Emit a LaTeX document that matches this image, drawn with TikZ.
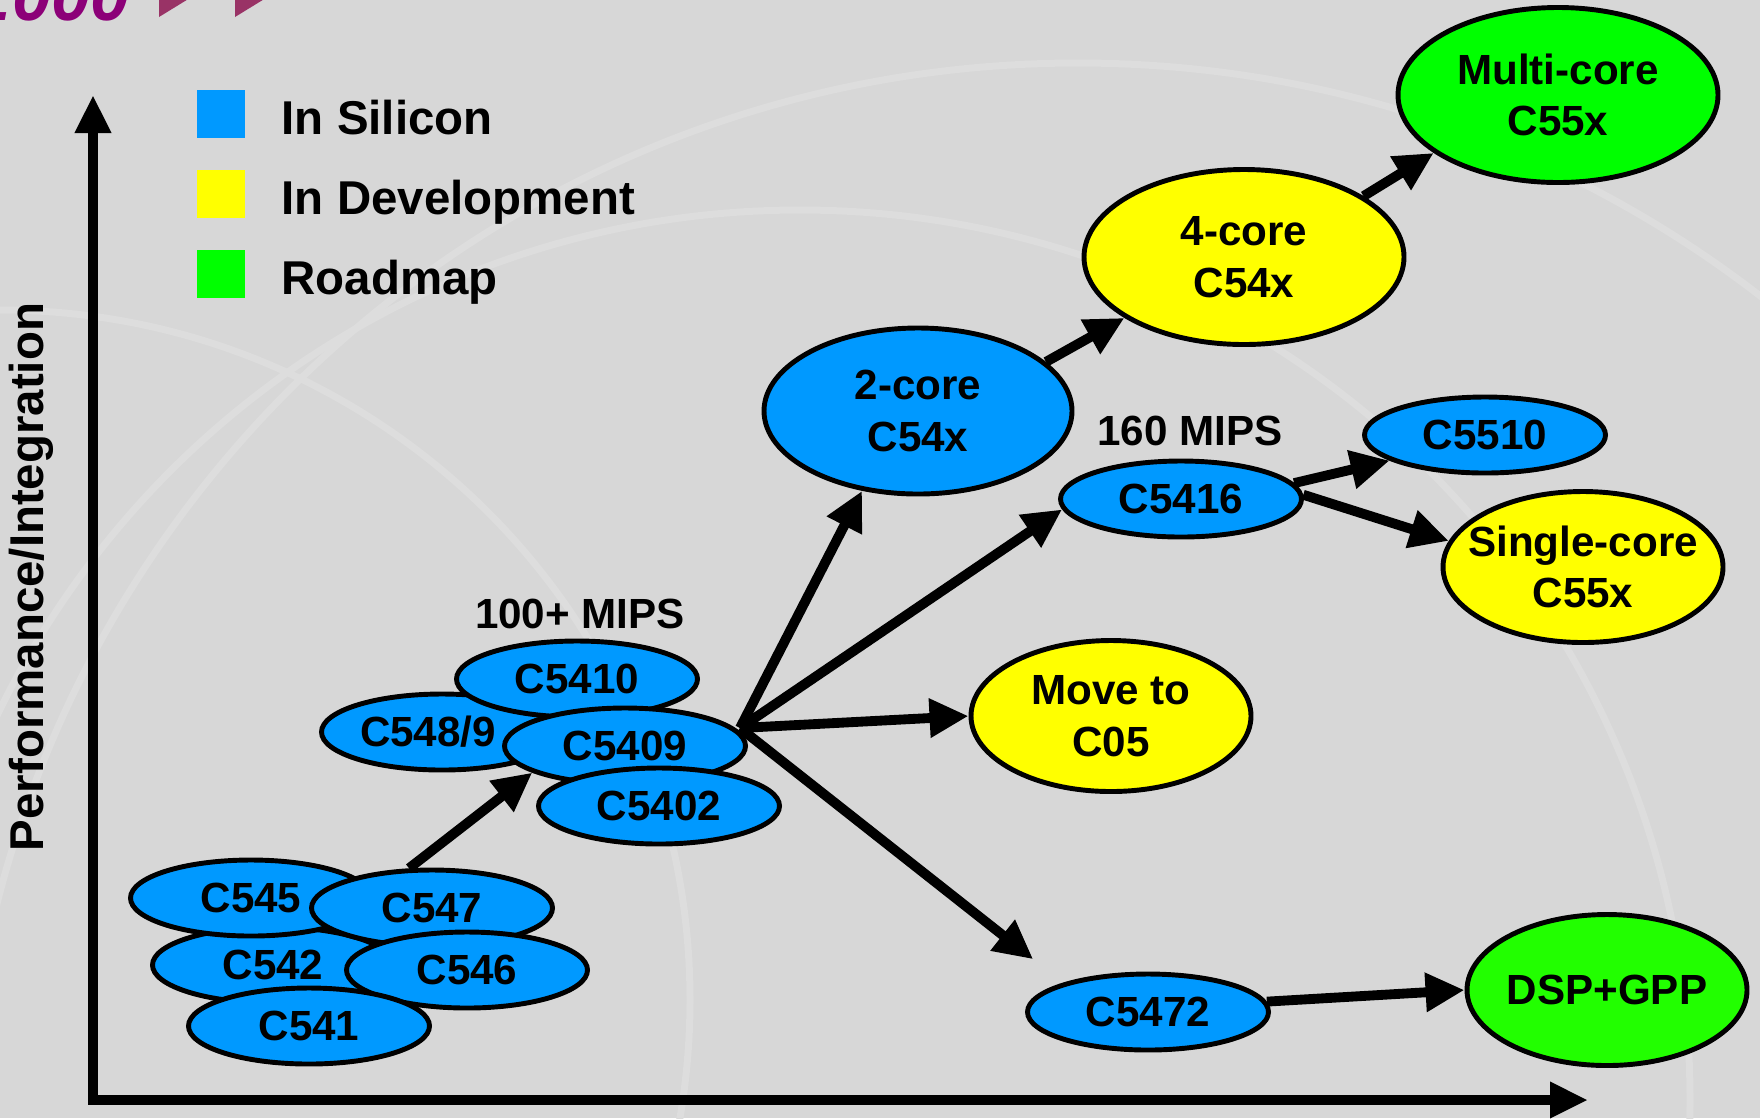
\documentclass[tikz,border=0pt]{standalone}
\usepackage{fontspec}
\setmainfont{Liberation Sans}
\usepackage{tikz}
\usetikzlibrary{shapes.geometric, arrows.meta, positioning}
\definecolor{slidebg}{RGB}{215,215,215}
\definecolor{arcbg}{RGB}{221,221,221}
\definecolor{siliconbg}{RGB}{0,153,255}
\definecolor{developbg}{RGB}{255,255,0}
\definecolor{roadmapbg}{RGB}{0,255,0}
\definecolor{gppbg}{RGB}{34,255,0}
\definecolor{logotext}{RGB}{140,0,120}
\definecolor{logomark}{RGB}{153,51,102}

\begin{document}
\begin{tikzpicture}[x=0.1mm, y=-0.1mm,
    chip/.style={ellipse, draw, line width=1.4pt, inner xsep=-4mm, inner ysep=0pt, minimum width=2.41cm, minimum height=0.76cm, align=center, font=\fontsize{12}{14.7}\selectfont\bfseries},
    bigchip/.style={chip, minimum width=3.2cm, minimum height=1.75cm},
    midchip/.style={chip, minimum width=2.8cm, minimum height=1.51cm},
    legendbox/.style={rectangle, minimum size=0.48cm, inner sep=0pt},
    legendtext/.style={inner sep=0pt, font=\fontsize{13.5}{16}\selectfont\bfseries},
    mipstext/.style={font=\fontsize{12}{14}\selectfont\bfseries},
    bgarc/.style={draw=arcbg, line width=0.07cm},
    arrow/.style={-{Triangle[length=0.39cm, width=0.37cm]}, line width=2.8pt},
    axis/.style={{Triangle[length=0.38cm, width=0.34cm]}-{Triangle[length=0.38cm, width=0.34cm]}, line width=2.8pt, line join=miter}
]

\useasboundingbox (0,0) rectangle (1760,1118);
\clip (0,0) rectangle (1760,1118);
\fill[slidebg] (0,0) rectangle (1760,1118);

% faint slide background
\draw[bgarc] (1078,1178) circle[radius=1115];
\draw[bgarc] (800,1100) circle[radius=890];
\draw[bgarc] (0,1000) circle[radius=690];

% slide logo, cut off at the top
\node[anchor=base east, inner sep=0pt, text=logotext, font=\fontsize{20}{24}\selectfont\bfseries\itshape] (logo) at (130,20) {2000};
\fill[logomark] (159,-10) -- (203,-10) -- (159,17) -- cycle;
\fill[logomark] (235,-10) -- (279,-10) -- (235,17) -- cycle;

% axes
\coordinate (ytop) at (93,95);
\coordinate (origin) at (93,1100);
\coordinate (xend) at (1588,1100);
\draw[axis] (ytop) -- (origin) -- (xend);
\node[legendtext, rotate=90] (ylabel) at (31,577) {Performance/Integration};

% legend
\node[legendbox, fill=siliconbg] (keysil) at (221,114) {};
\node[legendbox, fill=developbg] (keydev) at (221,194) {};
\node[legendbox, fill=roadmapbg] (keyroad) at (221,274) {};
\node[legendtext, anchor=base west] (keysiltxt) at (281,134) {In Silicon};
\node[legendtext, anchor=base west] (keydevtxt) at (281,214) {In Development};
\node[legendtext, anchor=base west] (keyroadtxt) at (281,294) {Roadmap};

% first devices
\node[chip, fill=siliconbg] (c542) at (273,965) {C542};
\node[chip, fill=siliconbg] (c545) at (251,898) {C545};
\node[chip, fill=siliconbg] (c547) at (432,908) {C547};
\node[chip, fill=siliconbg] (c546) at (467,970) {C546};
\node[chip, fill=siliconbg] (c541) at (309,1026) {C541};

% 100+ MIPS group
\node[chip, fill=siliconbg] (c5489) at (442,732) {C548/9\kern0.28cm};
\node[chip, fill=siliconbg] (c5410) at (577,679) {C5410};
\node[chip, fill=siliconbg] (c5409) at (625,746) {C5409};
\node[chip, fill=siliconbg] (c5402) at (659,806) {C5402};
\node[mipstext] (mips100) at (580,614) {100+ MIPS};

% later devices
\node[bigchip, fill=siliconbg, minimum width=3.08cm, minimum height=1.66cm] (two) at (918,411) {2-core\\C54x};
\node[bigchip, fill=developbg] (four) at (1244,257) {4-core\\C54x};
\node[bigchip, fill=roadmapbg] (multi) at (1558,95) {Multi-core\\C55x};
\node[chip, fill=siliconbg] (c5416) at (1181,499) {C5416};
\node[mipstext] (mips160) at (1190,431) {160 MIPS};
\node[chip, fill=siliconbg] (c5510) at (1485,435) {C5510};
\node[midchip, fill=developbg] (single) at (1583,567) {Single-core\\C55x};
\node[midchip, fill=developbg] (move) at (1111,716) {Move to\\C05};
\node[chip, fill=siliconbg] (c5472) at (1148,1012) {C5472};
\node[midchip, fill=gppbg] (dspgpp) at (1607,990) {DSP+GPP};

% migration arrows
\coordinate (hub) at (740,728);
\draw[arrow] (c547.120) -- (c5409.196);
\draw[arrow] (hub) -- (two.235);
\draw[arrow] (hub) -- (c5416.185);
\draw[arrow] (hub) -- (move.west);
\draw[arrow, shorten >=0.38cm] (hub) -- (c5472.161);
\draw[arrow] (two.21) -- (four.207);
\draw[arrow] (four.27) -- (multi.205);
\draw[arrow] (c5416.8) -- (c5510.195);
\draw[arrow] (c5416.2) -- (single.169);
\draw[arrow] (c5472.5) -- (dspgpp.west);

\end{tikzpicture}
\end{document}
